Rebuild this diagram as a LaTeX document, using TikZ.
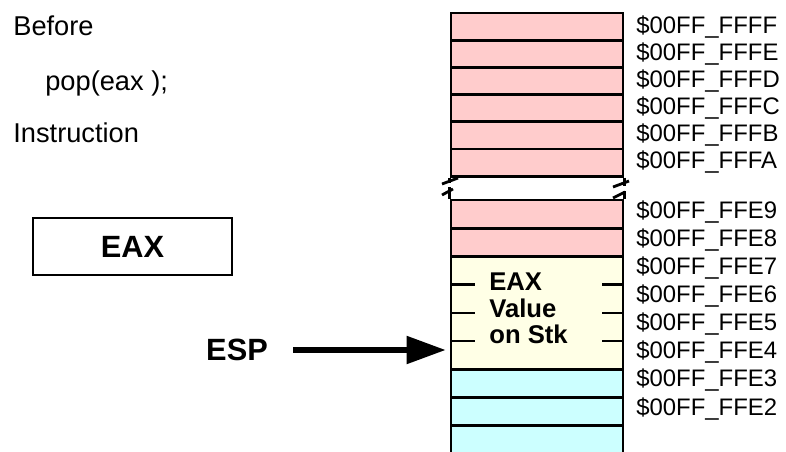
\documentclass[tikz,border=0pt]{standalone}
\usepackage{fontspec}
\setmainfont{Liberation Sans}
\usepackage{tikz}
\usetikzlibrary{arrows.meta,positioning}
\definecolor{cellpink}{RGB}{255,204,204}
\definecolor{cellyellow}{RGB}{255,255,230}
\definecolor{cellcyan}{RGB}{204,255,255}

\begin{document}
\begin{tikzpicture}[x=0.02cm,y=-0.02cm,auto]
  \tikzstyle{cell}=[rectangle,draw=black,line width=1.6pt,
                                    minimum width=3.44cm,
                                    inner sep=0pt]
  \tikzstyle{oldcell}=[cell,fill=cellpink,minimum height=0.544cm]
  \tikzstyle{lowcell}=[cell,fill=cellpink,minimum height=0.564cm]
  \tikzstyle{valcell}=[cell,fill=cellyellow,minimum height=2.256cm]
  \tikzstyle{freecell}=[cell,fill=cellcyan,minimum height=0.564cm]
  \tikzstyle{addr}=[anchor=base west,inner sep=0pt,
                                    font=\fontsize{13.6}{15}\selectfont]
  \tikzstyle{plain}=[anchor=base west,inner sep=0pt,
                                    font=\fontsize{15.5}{18}\selectfont]
  \tikzstyle{regbox}=[rectangle,draw=black,line width=1.2pt,
                                    minimum width=3.98cm,
                                    minimum height=1.14cm,
                                    font=\fontsize{17.5}{20}\selectfont\bfseries]
  \tikzstyle{tick}=[line width=1.4pt]
  \tikzstyle{brk}=[line width=1.6pt]
  \tikzstyle{bigarrow}=[-{Triangle[length=0.78cm,width=0.54cm]},
                                    line width=3pt]
  \useasboundingbox (0,0) rectangle (786,452);
  \clip (0,0) rectangle (786,452);
  %Textos a la izquierda
  \node[plain] (before) at (13,36) {Before};
  \node[plain] (instr) at (45,91) {pop(eax );};
  \node[plain] (instrb) at (13,143) {Instruction};
  \node[regbox] (eax) at (132.5,246.5) {EAX};
  \node[inner sep=0pt,font=\fontsize{17.5}{20}\selectfont\bfseries]
        (esp) at (237,350) {ESP};
  %Celdas de la pila (arriba)
  \node[oldcell] (c1) at (537,26.6) {};
  \node[oldcell] (c2) at (537,53.8) {};
  \node[oldcell] (c3) at (537,81) {};
  \node[oldcell] (c4) at (537,108.2) {};
  \node[oldcell] (c5) at (537,135.4) {};
  \node[oldcell] (c6) at (537,162.6) {};
  %Celdas de la pila (abajo)
  \node[lowcell] (d1) at (537,214.1) {};
  \node[lowcell] (d2) at (537,242.3) {};
  \node[valcell] (val) at (537,312.8) {};
  \node[freecell] (s1) at (537,383.3) {};
  \node[freecell] (s2) at (537,411.5) {};
  \node[freecell,minimum height=0.8cm] (s3) at (537,445.6) {};
  \node[anchor=west,inner sep=0pt,align=left,
        font=\fontsize{14.6}{15.2}\selectfont\bfseries]
        (valtxt) at (489,308.5) {EAX\\Value\\on Stk};
  \draw[tick] (451,284.6) -- +(24,0) (602,284.6) -- (623,284.6);
  \draw[tick] (451,312.8) -- +(24,0) (602,312.8) -- (623,312.8);
  \draw[tick] (451,341) -- +(24,0) (602,341) -- (623,341);
  %Corte
  \draw[brk] (c6.south west) -- ++(0,5);
  \draw[brk] (d1.north west) -- ++(0,-12);
  \draw[brk] (442,184) -- (458,178) (442,195) -- (453,189);
  \draw[brk] (c6.south east) -- ++(0,8);
  \draw[brk] (d1.north east) -- ++(0,-8);
  \draw[brk] (613,187) -- (629,181) (613,198) -- (625,192);
  %Direcciones
  \node[addr] (a1) at (636,33.5) {\$00FF\_FFFF};
  \node[addr] (a2) at (636,60.5) {\$00FF\_FFFE};
  \node[addr] (a3) at (636,88) {\$00FF\_FFFD};
  \node[addr] (a4) at (636,115) {\$00FF\_FFFC};
  \node[addr] (a5) at (636,141.5) {\$00FF\_FFFB};
  \node[addr] (a6) at (636,168.5) {\$00FF\_FFFA};
  \node[addr] (b1) at (636,218.5) {\$00FF\_FFE9};
  \node[addr] (b2) at (636,246.6) {\$00FF\_FFE8};
  \node[addr] (b3) at (636,274.7) {\$00FF\_FFE7};
  \node[addr] (b4) at (636,302.7) {\$00FF\_FFE6};
  \node[addr] (b5) at (636,330.8) {\$00FF\_FFE5};
  \node[addr] (b6) at (636,358.9) {\$00FF\_FFE4};
  \node[addr] (b7) at (636,386.9) {\$00FF\_FFE3};
  \node[addr] (b8) at (636,415) {\$00FF\_FFE2};
  %Flecha ESP
  \path (esp.east) edge[bigarrow,shorten <=0.5cm,shorten >=0.08cm]
        (esp.east -| val.west);
\end{tikzpicture}
\end{document}
